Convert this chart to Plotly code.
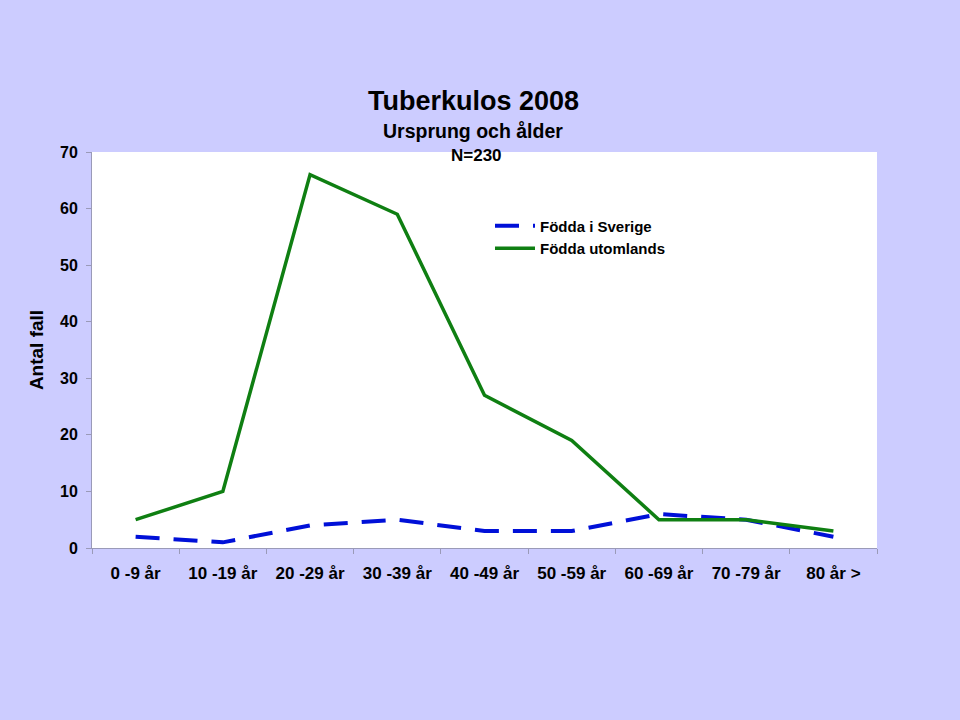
import plotly.graph_objects as go

categories = ["0 -9 år", "10 -19 år", "20 -29 år", "30 -39 år", "40 -49 år",
              "50 -59 år", "60 -69 år", "70 -79 år", "80 år >"]
fodda_sverige = [2, 1, 4, 5, 3, 3, 6, 5, 2]
fodda_utomlands = [5, 10, 66, 59, 27, 19, 5, 5, 3]
y_ticks = [0, 10, 20, 30, 40, 50, 60, 70]

FONT = "Liberation Sans, Arial, sans-serif"
BG = "#CCCCFF"

fig = go.Figure()
fig.add_trace(go.Scatter(
    x=categories, y=fodda_sverige, mode="lines", name="<b>Födda i Sverige</b>",
    line=dict(color="#0010D8", width=4, dash="24px,14px"),
))
fig.add_trace(go.Scatter(
    x=categories, y=fodda_utomlands, mode="lines", name="<b>Födda utomlands</b>",
    line=dict(color="#0F7F12", width=3.5),
))

fig.update_layout(
    width=960, height=720,
    paper_bgcolor=BG, plot_bgcolor="white",
    margin=dict(l=92, r=83, t=152, b=172),
    font=dict(family=FONT, color="black"),
    showlegend=True,
    legend=dict(x=0.507, y=0.855, xanchor="left", yanchor="top",
                bgcolor="rgba(0,0,0,0)", font=dict(size=15, family=FONT),
                tracegroupgap=0, itemwidth=40),
    xaxis=dict(
        type="category", range=[-0.5, 8.5], tickson="boundaries",
        ticks="outside", ticklen=5, tickcolor="#9A9AB8",
        showline=True, linecolor="#9A9AB8", linewidth=1,
        showgrid=False, zeroline=False,
        tickfont=dict(size=17, family=FONT),
        ticklabelstandoff=10,
        tickprefix="<b>", ticksuffix="</b>",
    ),
    yaxis=dict(
        range=[0, 70], tickvals=y_ticks,
        ticktext=[f"<b>{v}</b>" for v in y_ticks],
        ticks="outside", ticklen=5, tickcolor="#9A9AB8",
        showline=True, linecolor="#9A9AB8", linewidth=1,
        showgrid=False, zeroline=False,
        tickfont=dict(size=16, family=FONT),
        ticklabelstandoff=5,
        title=dict(text="<b>Antal fall</b>", font=dict(size=19, family=FONT), standoff=11),
    ),
    annotations=[
        dict(text="<b>Tuberkulos 2008</b>", x=473, y=101, showarrow=False,
             font=dict(size=27, family=FONT)),
        dict(text="<b>Ursprung och ålder</b>", x=473, y=131, showarrow=False,
             font=dict(size=19.5, family=FONT)),
        dict(text="<b>N=230</b>", x=476, y=155, showarrow=False,
             font=dict(size=17, family=FONT)),
    ],
)

# convert pixel positions of the title annotations into paper coordinates
pw, ph = 960 - 92 - 83, 720 - 152 - 172
for ann in fig.layout.annotations:
    px, py = ann.x, ann.y
    ann.xref = "paper"
    ann.yref = "paper"
    ann.x = (px - 92) / pw
    ann.y = (548 - py) / ph
    ann.xanchor = "center"
    ann.yanchor = "middle"

fig.write_html("out.html")
